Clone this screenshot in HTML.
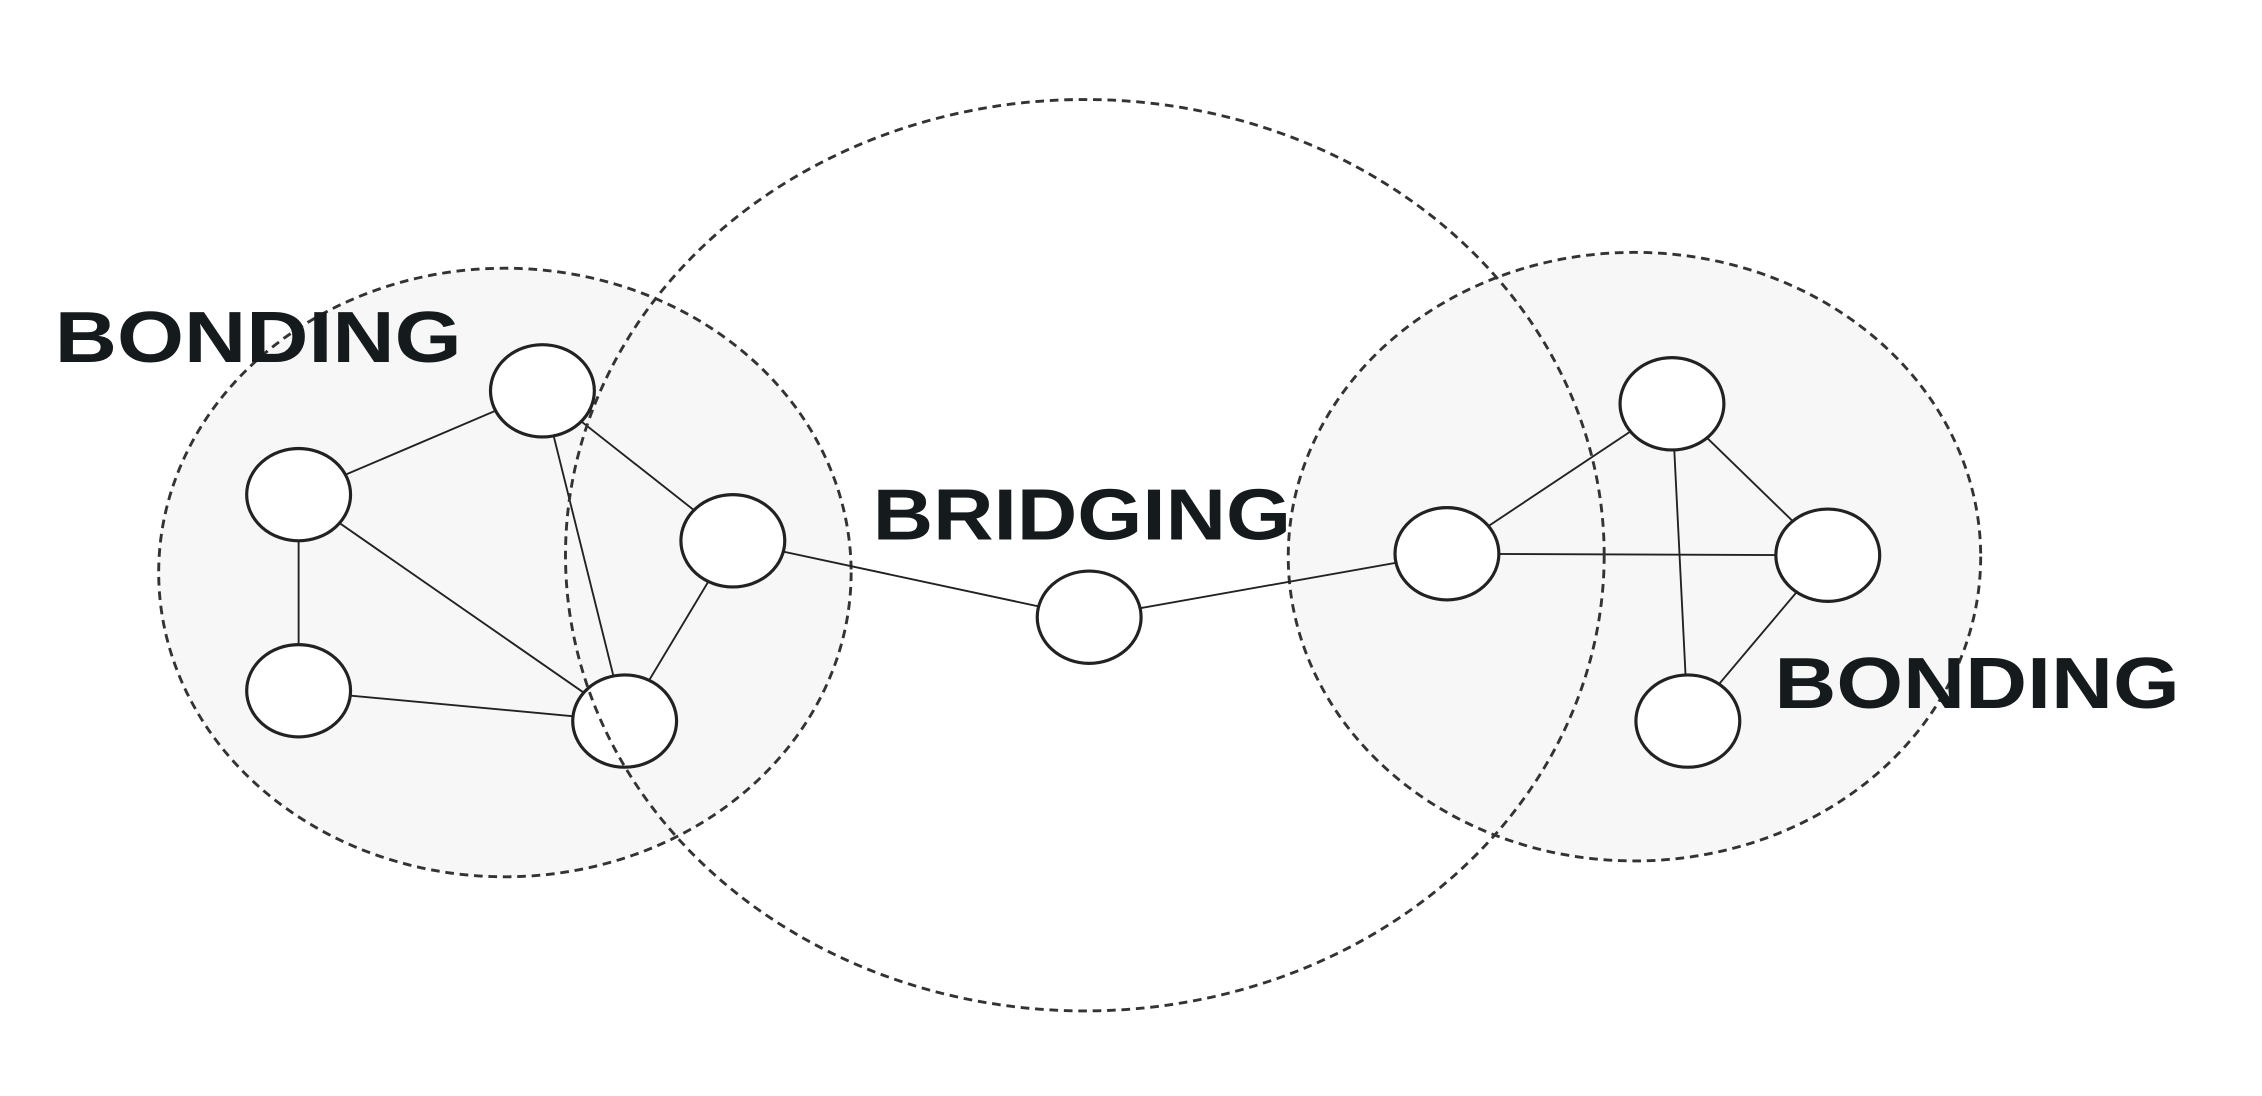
<!DOCTYPE html>
<html><head><style>html,body{margin:0;padding:0;background:#fff}svg{display:block}</style></head>
<body>
<svg width="2262" height="1096" viewBox="0 0 1568 760" preserveAspectRatio="none" xmlns="http://www.w3.org/2000/svg">
<rect width="1568" height="760" fill="#fff"/>
<g stroke="#333" stroke-width="2" stroke-dasharray="6,4">
<ellipse cx="350" cy="397" rx="240" ry="211" fill="#f6f7f6"/>
<ellipse cx="1133" cy="386" rx="240" ry="211" fill="#f6f7f6"/>
</g>
<g stroke="#222" stroke-width="1.3">
<line x1="376" y1="271" x2="207" y2="343"/>
<line x1="376" y1="271" x2="508" y2="375"/>
<line x1="376" y1="271" x2="433" y2="500"/>
<line x1="207" y1="343" x2="433" y2="500"/>
<line x1="207" y1="343" x2="207" y2="479"/>
<line x1="207" y1="479" x2="433" y2="500"/>
<line x1="508" y1="375" x2="433" y2="500"/>
<line x1="508" y1="375" x2="755" y2="428"/>
<line x1="755" y1="428" x2="1003" y2="384"/>
<line x1="1003" y1="384" x2="1159" y2="280"/>
<line x1="1003" y1="384" x2="1267" y2="385"/>
<line x1="1159" y1="280" x2="1267" y2="385"/>
<line x1="1159" y1="280" x2="1170" y2="500"/>
<line x1="1267" y1="385" x2="1170" y2="500"/>
</g>
<g stroke="#222" stroke-width="2.2" fill="#fff">
<ellipse cx="376" cy="271" rx="36" ry="32"/>
<ellipse cx="207" cy="343" rx="36" ry="32"/>
<ellipse cx="508" cy="375" rx="36" ry="32"/>
<ellipse cx="207" cy="479" rx="36" ry="32"/>
<ellipse cx="433" cy="500" rx="36" ry="32"/>
<ellipse cx="755" cy="428" rx="36" ry="32"/>
<ellipse cx="1159" cy="280" rx="36" ry="32"/>
<ellipse cx="1003" cy="384" rx="36" ry="32"/>
<ellipse cx="1267" cy="385" rx="36" ry="32"/>
<ellipse cx="1170" cy="500" rx="36" ry="32"/>
</g>
<ellipse cx="752" cy="385" rx="360" ry="316" fill="none" stroke="#333" stroke-width="2" stroke-dasharray="6,4"/>
<g font-family="Liberation Sans, sans-serif" font-weight="bold" font-size="50" fill="#151a1c">
<text x="38" y="251" textLength="282" lengthAdjust="spacingAndGlyphs">BONDING</text>
<text x="605" y="374" textLength="290" lengthAdjust="spacingAndGlyphs">BRIDGING</text>
<text x="1230" y="491" textLength="281" lengthAdjust="spacingAndGlyphs">BONDING</text>
</g>
</svg>
</body></html>
